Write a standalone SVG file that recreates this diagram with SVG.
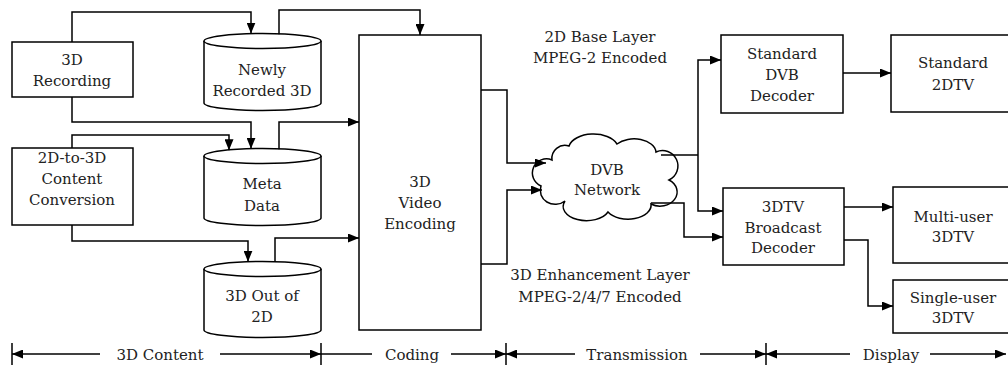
<svg xmlns="http://www.w3.org/2000/svg" width="1008" height="365" viewBox="0 0 1008 365">
<defs>
<marker id="arr" viewBox="0 0 11 9" refX="11" refY="4.5" markerWidth="11" markerHeight="9" markerUnits="userSpaceOnUse" orient="auto">
<path d="M0,0 L11,4.5 L0,9 Z" fill="#000"/>
</marker>
<style>
.n{fill:#fff;stroke:#000;stroke-width:1.5}
.c{fill:none;stroke:#000;stroke-width:1.5}
.ca{fill:none;stroke:#000;stroke-width:1.5;marker-end:url(#arr)}
.t{font-size:15px;fill:#222;text-anchor:middle}
</style>
</defs>
<rect width="1008" height="365" fill="#fff"/>
<g font-family="DejaVu Serif, serif" class="t">
<g id="rec">
<rect class="n" x="12" y="42" width="121" height="55"/>
<text x="72" y="65">3D</text><text x="72" y="86">Recording</text>
</g>
<g id="conv">
<rect class="n" x="12" y="148" width="121" height="77"/>
<text x="72" y="163">2D-to-3D</text><text x="72" y="184">Content</text><text x="72" y="205">Conversion</text>
</g>
<g id="newly">
<path class="n" d="M204,41 L204,103 A58.5,7.5 0 0 0 321,103 L321,41"/>
<ellipse class="n" cx="262.5" cy="41" rx="58.5" ry="7.5"/>
<text x="262" y="75">Newly</text><text x="262" y="96">Recorded 3D</text>
</g>
<g id="meta">
<path class="n" d="M204,156 L204,218 A58.5,7.5 0 0 0 321,218 L321,156"/>
<ellipse class="n" cx="262.5" cy="156" rx="58.5" ry="7.5"/>
<text x="262" y="189">Meta</text><text x="262" y="211">Data</text>
</g>
<g id="out">
<path class="n" d="M204,269 L204,330 A58.5,7.5 0 0 0 321,330 L321,269"/>
<ellipse class="n" cx="262.5" cy="269" rx="58.5" ry="7.5"/>
<text x="262" y="301">3D Out of</text><text x="262" y="322">2D</text>
</g>
<g id="enc">
<rect class="n" x="359" y="35" width="122" height="295"/>
<text x="420" y="187">3D</text><text x="420" y="208">Video</text><text x="420" y="229">Encoding</text>
</g>
<g id="dvb">
<path class="n" d="M552,160 A13,13 0 0 1 569,146 A25,15 0 0 1 617,144 A22,14 0 0 1 656,152 A15,15 0 0 1 669,180 A17,14 0 0 1 651,204 A23,14 0 0 1 608,212 A23,14 0 0 1 565,201 A15,14 0 0 1 541,186 A13,13 0 0 1 552,160 Z"/>
<text x="607" y="175">DVB</text><text x="607" y="195">Network</text>
</g>
<g id="sdec">
<rect class="n" x="721" y="35" width="122" height="78"/>
<text x="782" y="59">Standard</text><text x="782" y="80">DVB</text><text x="782" y="101">Decoder</text>
</g>
<g id="s2d">
<rect class="n" x="891" y="35" width="125" height="77"/>
<text x="953" y="68">Standard</text><text x="953" y="90">2DTV</text>
</g>
<g id="bdec">
<rect class="n" x="723" y="188" width="121" height="77"/>
<text x="783" y="212">3DTV</text><text x="783" y="233">Broadcast</text><text x="783" y="253">Decoder</text>
</g>
<g id="multi">
<rect class="n" x="893" y="187" width="125" height="76"/>
<text x="953" y="222">Multi-user</text><text x="953" y="242">3DTV</text>
</g>
<g id="single">
<rect class="n" x="893" y="280" width="125" height="53"/>
<text x="953" y="303">Single-user</text><text x="953" y="323">3DTV</text>
</g>
<g id="labels">
<text x="600" y="42">2D Base Layer</text><text x="600" y="63">MPEG-2 Encoded</text>
<text x="600" y="280">3D Enhancement Layer</text><text x="600" y="302">MPEG-2/4/7 Encoded</text>
</g>
<g id="connectors">
<path class="ca" d="M72,42 V12 H251 V33.6"/>
<path class="ca" d="M72,97 V122 H251 V148.8"/>
<path class="ca" d="M72,148 V135 H229 V150.3"/>
<path class="ca" d="M72,225 V241 H248 V261.7"/>
<path class="ca" d="M279,34.3 V10 H420 V35"/>
<path class="ca" d="M279,149.3 V122 H359"/>
<path class="ca" d="M275,262.1 V238 H359"/>
<path class="ca" d="M481,90 H507 V163 H546"/>
<path class="ca" d="M481,264 H507 V190 H542"/>
<path class="c" d="M661,155 H698"/>
<path class="ca" d="M698,155 V60 H721"/>
<path class="ca" d="M698,155 V211 H723"/>
<path class="ca" d="M651,203 H684 V237 H723"/>
<path class="ca" d="M843,73 H891"/>
<path class="ca" d="M844,207 H893"/>
<path class="ca" d="M844,240 H868 V306 H893"/>
</g>
<g id="axis">
<path class="c" d="M12,343 V365 M321,343 V365 M506,343 V365 M766,343 V365"/>
<path class="ca" d="M100,354 H12"/>
<path class="ca" d="M220,354 H321"/>
<path class="c" d="M321,354 H372"/>
<path class="ca" d="M451,354 H506"/>
<path class="ca" d="M575,354 H506"/>
<path class="ca" d="M700,354 H766"/>
<path class="ca" d="M850,354 H766"/>
<path class="ca" d="M930,354 H1006"/>
<text x="160" y="360">3D Content</text>
<text x="412" y="360">Coding</text>
<text x="637" y="360">Transmission</text>
<text x="891" y="360">Display</text>
</g>
</g>
</svg>
